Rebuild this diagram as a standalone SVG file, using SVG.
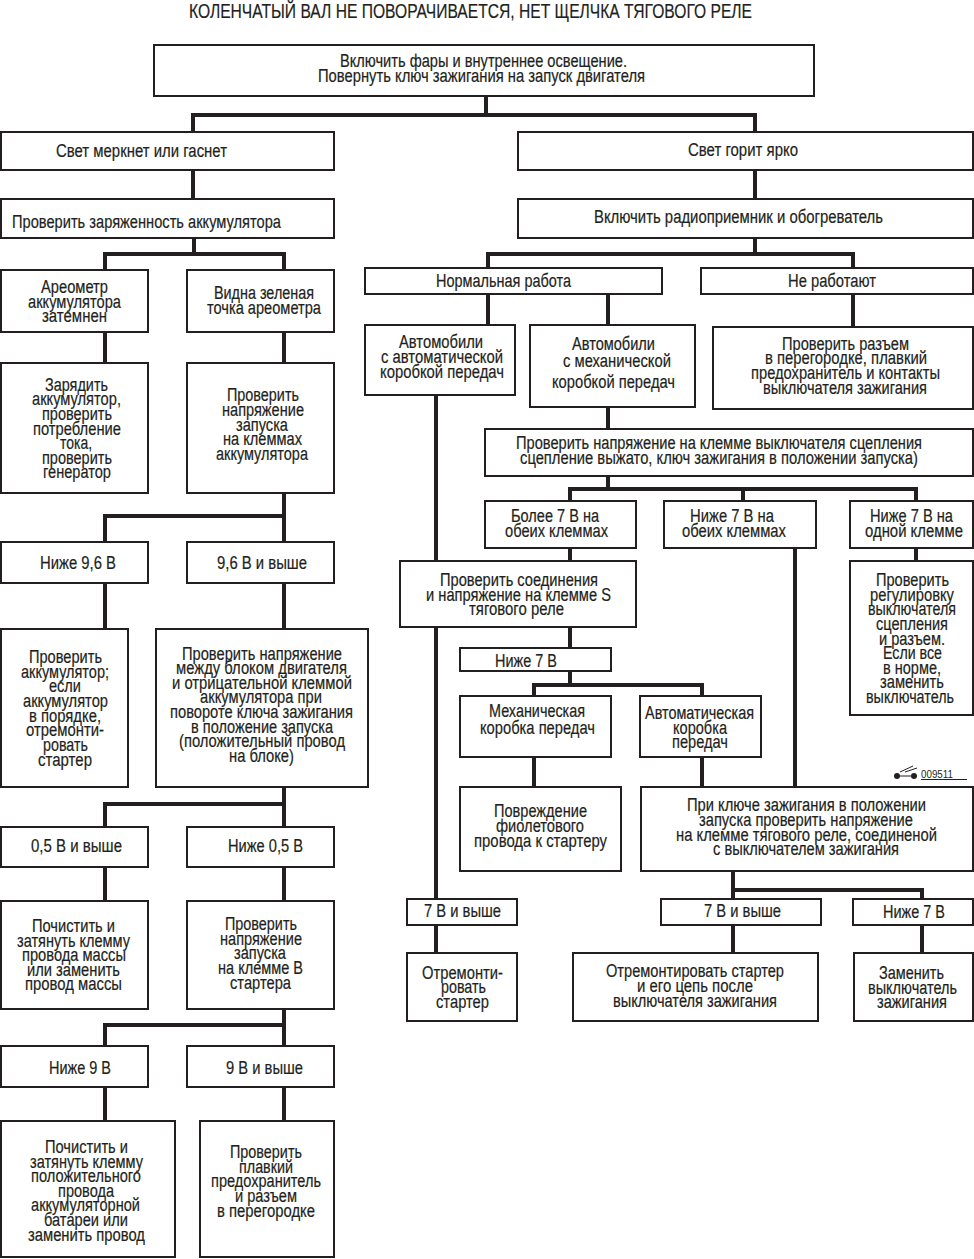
<svg xmlns="http://www.w3.org/2000/svg" width="974" height="1259" viewBox="0 0 974 1259">
<style>
rect{fill:#fff;stroke:#231f20;stroke-width:2}
text{font-family:"Liberation Sans",Arial,sans-serif;font-size:17.6px;fill:#231f20;stroke:#231f20;stroke-width:.2}
text.t{font-size:19.5px}
text.s{font-size:11px;stroke:none}
#connectors path{fill:none;stroke:#231f20;stroke-width:4}
#mark path{fill:none;stroke:#231f20;stroke-width:1}
#mark circle{fill:#231f20}
</style>
<rect x="0" y="0" width="974" height="1259" style="fill:#fff;stroke:none"/>
<text class="t" x="189" y="18" textLength="563" lengthAdjust="spacingAndGlyphs">КОЛЕНЧАТЫЙ ВАЛ НЕ ПОВОРАЧИВАЕТСЯ, НЕТ ЩЕЛЧКА ТЯГОВОГО РЕЛЕ</text>
<g id="connectors">
<path d="M486 97V115M193 132V115H755V132"/>
<path d="M193 170V199M194 238V254M105 270V254H284V270"/>
<path d="M755 170V199M755 238V254M488 268V254H853V268"/>
<path d="M105 332V363M284 332V363"/>
<path d="M284 493V542M105 542V516H284"/>
<path d="M105 583V629M284 583V629"/>
<path d="M284 787V827M105 827V804H284"/>
<path d="M105 867V901M284 867V901"/>
<path d="M284 1009V1046M105 1046V1025H284"/>
<path d="M105 1087V1121M284 1087V1121"/>
<path d="M488 294V325M608 294V325M853 294V327"/>
<path d="M436 395V561M436 627V899M436 925V953"/>
<path d="M608 407V429M608 476V489M570 501V489H916V501M743 489V501"/>
<path d="M570 548V561M916 548V561M795 548V787"/>
<path d="M570 627V648M570 671V685M534 696V685H702V696"/>
<path d="M534 757V787M702 757V787"/>
<path d="M733 871V899M733 890H922V899M733 925V953M922 925V953"/>
</g>
<g id="n1"><rect x="154" y="45" width="660" height="51"/><text x="340" y="67" textLength="287" lengthAdjust="spacingAndGlyphs">Включить фары и внутреннее освещение.</text><text x="318" y="82" textLength="327" lengthAdjust="spacingAndGlyphs">Повернуть ключ зажигания на запуск двигателя</text></g>
<g id="n2"><rect x="1" y="132" width="333" height="38"/><text x="56" y="157" textLength="171" lengthAdjust="spacingAndGlyphs">Свет меркнет или гаснет</text></g>
<g id="n3"><rect x="518" y="132" width="455" height="38"/><text x="688" y="156" textLength="110" lengthAdjust="spacingAndGlyphs">Свет горит ярко</text></g>
<g id="n4"><rect x="1" y="199" width="333" height="39"/><text x="12" y="228" textLength="269" lengthAdjust="spacingAndGlyphs">Проверить заряженность аккумулятора</text></g>
<g id="n5"><rect x="518" y="199" width="455" height="39"/><text x="594" y="223" textLength="289" lengthAdjust="spacingAndGlyphs">Включить радиоприемник и обогреватель</text></g>
<g id="n6"><rect x="1" y="270" width="147" height="62"/><text x="41" y="293" textLength="67" lengthAdjust="spacingAndGlyphs">Ареометр</text><text x="28" y="308" textLength="93" lengthAdjust="spacingAndGlyphs">аккумулятора</text><text x="42" y="322" textLength="65" lengthAdjust="spacingAndGlyphs">затемнен</text></g>
<g id="n7"><rect x="187" y="270" width="147" height="62"/><text x="214" y="299" textLength="100" lengthAdjust="spacingAndGlyphs">Видна зеленая</text><text x="207" y="314" textLength="114" lengthAdjust="spacingAndGlyphs">точка ареометра</text></g>
<g id="n8"><rect x="365" y="268" width="297" height="26"/><text x="436" y="287" textLength="135" lengthAdjust="spacingAndGlyphs">Нормальная работа</text></g>
<g id="n9"><rect x="701" y="268" width="272" height="26"/><text x="788" y="287" textLength="88" lengthAdjust="spacingAndGlyphs">Не работают</text></g>
<g id="n10"><rect x="365" y="325" width="150" height="70"/><text x="399" y="348" textLength="84" lengthAdjust="spacingAndGlyphs">Автомобили</text><text x="381" y="363" textLength="122" lengthAdjust="spacingAndGlyphs">с автоматической</text><text x="380" y="378" textLength="124" lengthAdjust="spacingAndGlyphs">коробкой передач</text></g>
<g id="n11"><rect x="530" y="325" width="165" height="82"/><text x="572" y="350" textLength="83" lengthAdjust="spacingAndGlyphs">Автомобили</text><text x="563" y="367" textLength="108" lengthAdjust="spacingAndGlyphs">с механической</text><text x="552" y="388" textLength="123" lengthAdjust="spacingAndGlyphs">коробкой передач</text></g>
<g id="n12"><rect x="713" y="327" width="260" height="82"/><text x="782" y="350" textLength="127" lengthAdjust="spacingAndGlyphs">Проверить разъем</text><text x="765" y="364" textLength="162" lengthAdjust="spacingAndGlyphs">в перегородке, плавкий</text><text x="751" y="379" textLength="189" lengthAdjust="spacingAndGlyphs">предохранитель и контакты</text><text x="763" y="394" textLength="164" lengthAdjust="spacingAndGlyphs">выключателя зажигания</text></g>
<g id="n13"><rect x="1" y="363" width="147" height="130"/><text x="45" y="391" textLength="63" lengthAdjust="spacingAndGlyphs">Зарядить</text><text x="32" y="405" textLength="89" lengthAdjust="spacingAndGlyphs">аккумулятор,</text><text x="42" y="420" textLength="70" lengthAdjust="spacingAndGlyphs">проверить</text><text x="33" y="435" textLength="88" lengthAdjust="spacingAndGlyphs">потребление</text><text x="60" y="449" textLength="32" lengthAdjust="spacingAndGlyphs">тока,</text><text x="42" y="464" textLength="70" lengthAdjust="spacingAndGlyphs">проверить</text><text x="43" y="478" textLength="68" lengthAdjust="spacingAndGlyphs">генератор</text></g>
<g id="n14"><rect x="187" y="363" width="147" height="130"/><text x="227" y="401" textLength="72" lengthAdjust="spacingAndGlyphs">Проверить</text><text x="222" y="416" textLength="82" lengthAdjust="spacingAndGlyphs">напряжение</text><text x="236" y="431" textLength="52" lengthAdjust="spacingAndGlyphs">запуска</text><text x="223" y="445" textLength="79" lengthAdjust="spacingAndGlyphs">на клеммах</text><text x="216" y="460" textLength="92" lengthAdjust="spacingAndGlyphs">аккумулятора</text></g>
<g id="n15"><rect x="485" y="429" width="488" height="47"/><text x="516" y="449" textLength="406" lengthAdjust="spacingAndGlyphs">Проверить напряжение на клемме выключателя сцепления</text><text x="520" y="464" textLength="398" lengthAdjust="spacingAndGlyphs">сцепление выжато, ключ зажигания в положении запуска)</text></g>
<g id="n16"><rect x="485" y="501" width="151" height="47"/><text x="511" y="522" textLength="88" lengthAdjust="spacingAndGlyphs">Более 7 В на</text><text x="505" y="537" textLength="103" lengthAdjust="spacingAndGlyphs">обеих клеммах</text></g>
<g id="n17"><rect x="664" y="501" width="152" height="47"/><text x="690" y="522" textLength="84" lengthAdjust="spacingAndGlyphs">Ниже 7 В на</text><text x="682" y="537" textLength="104" lengthAdjust="spacingAndGlyphs">обеих клеммах</text></g>
<g id="n18"><rect x="850" y="501" width="123" height="47"/><text x="870" y="522" textLength="83" lengthAdjust="spacingAndGlyphs">Ниже 7 В на</text><text x="865" y="537" textLength="98" lengthAdjust="spacingAndGlyphs">одной клемме</text></g>
<g id="n19"><rect x="1" y="542" width="147" height="41"/><text x="40" y="569" textLength="76" lengthAdjust="spacingAndGlyphs">Ниже 9,6 В</text></g>
<g id="n20"><rect x="187" y="542" width="147" height="41"/><text x="217" y="569" textLength="90" lengthAdjust="spacingAndGlyphs">9,6 В и выше</text></g>
<g id="n21"><rect x="400" y="561" width="236" height="66"/><text x="440" y="586" textLength="158" lengthAdjust="spacingAndGlyphs">Проверить соединения</text><text x="426" y="601" textLength="185" lengthAdjust="spacingAndGlyphs">и напряжение на клемме S</text><text x="469" y="615" textLength="95" lengthAdjust="spacingAndGlyphs">тягового реле</text></g>
<g id="n22"><rect x="850" y="561" width="123" height="154"/><text x="876" y="586" textLength="73" lengthAdjust="spacingAndGlyphs">Проверить</text><text x="870" y="601" textLength="84" lengthAdjust="spacingAndGlyphs">регулировку</text><text x="868" y="615" textLength="88" lengthAdjust="spacingAndGlyphs">выключателя</text><text x="876" y="630" textLength="72" lengthAdjust="spacingAndGlyphs">сцепления</text><text x="879" y="645" textLength="66" lengthAdjust="spacingAndGlyphs">и разъем.</text><text x="883" y="659" textLength="59" lengthAdjust="spacingAndGlyphs">Если все</text><text x="883" y="674" textLength="58" lengthAdjust="spacingAndGlyphs">в норме,</text><text x="880" y="688" textLength="64" lengthAdjust="spacingAndGlyphs">заменить</text><text x="866" y="703" textLength="88" lengthAdjust="spacingAndGlyphs">выключатель</text></g>
<g id="n23"><rect x="1" y="629" width="127" height="158"/><text x="29" y="663" textLength="73" lengthAdjust="spacingAndGlyphs">Проверить</text><text x="21" y="678" textLength="88" lengthAdjust="spacingAndGlyphs">аккумулятор;</text><text x="49" y="692" textLength="32" lengthAdjust="spacingAndGlyphs">если</text><text x="23" y="707" textLength="85" lengthAdjust="spacingAndGlyphs">аккумулятор</text><text x="29" y="722" textLength="72" lengthAdjust="spacingAndGlyphs">в порядке,</text><text x="26" y="736" textLength="78" lengthAdjust="spacingAndGlyphs">отремонти-</text><text x="43" y="751" textLength="45" lengthAdjust="spacingAndGlyphs">ровать</text><text x="38" y="766" textLength="54" lengthAdjust="spacingAndGlyphs">стартер</text></g>
<g id="n24"><rect x="156" y="629" width="212" height="158"/><text x="182" y="660" textLength="160" lengthAdjust="spacingAndGlyphs">Проверить напряжение</text><text x="176" y="674" textLength="171" lengthAdjust="spacingAndGlyphs">между блоком двигателя</text><text x="172" y="689" textLength="180" lengthAdjust="spacingAndGlyphs">и отрицательной клеммой</text><text x="200" y="703" textLength="122" lengthAdjust="spacingAndGlyphs">аккумулятора при</text><text x="170" y="718" textLength="183" lengthAdjust="spacingAndGlyphs">повороте ключа зажигания</text><text x="191" y="733" textLength="142" lengthAdjust="spacingAndGlyphs">в положение запуска</text><text x="179" y="747" textLength="166" lengthAdjust="spacingAndGlyphs">(положительный провод</text><text x="229" y="762" textLength="65" lengthAdjust="spacingAndGlyphs">на блоке)</text></g>
<g id="n25"><rect x="460" y="648" width="151" height="23"/><text x="495" y="667" textLength="62" lengthAdjust="spacingAndGlyphs">Ниже 7 В</text></g>
<g id="n26"><rect x="460" y="696" width="151" height="61"/><text x="489" y="717" textLength="96" lengthAdjust="spacingAndGlyphs">Механическая</text><text x="480" y="734" textLength="115" lengthAdjust="spacingAndGlyphs">коробка передач</text></g>
<g id="n27"><rect x="640" y="696" width="121" height="61"/><text x="645" y="719" textLength="109" lengthAdjust="spacingAndGlyphs">Автоматическая</text><text x="673" y="734" textLength="54" lengthAdjust="spacingAndGlyphs">коробка</text><text x="672" y="748" textLength="56" lengthAdjust="spacingAndGlyphs">передач</text></g>
<g id="n28"><rect x="460" y="787" width="161" height="84"/><text x="494" y="817" textLength="93" lengthAdjust="spacingAndGlyphs">Повреждение</text><text x="496" y="832" textLength="88" lengthAdjust="spacingAndGlyphs">фиолетового</text><text x="474" y="847" textLength="133" lengthAdjust="spacingAndGlyphs">провода к стартеру</text></g>
<g id="n29"><rect x="641" y="787" width="332" height="84"/><text x="687" y="811" textLength="239" lengthAdjust="spacingAndGlyphs">При ключе зажигания в положении</text><text x="699" y="826" textLength="214" lengthAdjust="spacingAndGlyphs">запуска проверить напряжение</text><text x="676" y="841" textLength="261" lengthAdjust="spacingAndGlyphs">на клемме тягового реле, соединеной</text><text x="713" y="855" textLength="186" lengthAdjust="spacingAndGlyphs">с выключателем зажигания</text></g>
<g id="n30"><rect x="1" y="827" width="147" height="40"/><text x="31" y="852" textLength="91" lengthAdjust="spacingAndGlyphs">0,5 В и выше</text></g>
<g id="n31"><rect x="187" y="827" width="147" height="40"/><text x="228" y="852" textLength="75" lengthAdjust="spacingAndGlyphs">Ниже 0,5 В</text></g>
<g id="n32"><rect x="407" y="899" width="110" height="26"/><text x="424" y="917" textLength="77" lengthAdjust="spacingAndGlyphs">7 В и выше</text></g>
<g id="n33"><rect x="661" y="899" width="160" height="26"/><text x="704" y="917" textLength="77" lengthAdjust="spacingAndGlyphs">7 В и выше</text></g>
<g id="n34"><rect x="853" y="899" width="120" height="26"/><text x="883" y="918" textLength="62" lengthAdjust="spacingAndGlyphs">Ниже 7 В</text></g>
<g id="n35"><rect x="1" y="901" width="147" height="108"/><text x="32" y="932" textLength="83" lengthAdjust="spacingAndGlyphs">Почистить и</text><text x="17" y="947" textLength="113" lengthAdjust="spacingAndGlyphs">затянуть клемму</text><text x="22" y="961" textLength="104" lengthAdjust="spacingAndGlyphs">провода массы</text><text x="27" y="976" textLength="93" lengthAdjust="spacingAndGlyphs">или заменить</text><text x="25" y="990" textLength="97" lengthAdjust="spacingAndGlyphs">провод массы</text></g>
<g id="n36"><rect x="187" y="901" width="147" height="108"/><text x="225" y="930" textLength="72" lengthAdjust="spacingAndGlyphs">Проверить</text><text x="220" y="945" textLength="82" lengthAdjust="spacingAndGlyphs">напряжение</text><text x="234" y="959" textLength="52" lengthAdjust="spacingAndGlyphs">запуска</text><text x="218" y="974" textLength="85" lengthAdjust="spacingAndGlyphs">на клемме В</text><text x="230" y="989" textLength="61" lengthAdjust="spacingAndGlyphs">стартера</text></g>
<g id="n37"><rect x="407" y="953" width="110" height="68"/><text x="422" y="979" textLength="81" lengthAdjust="spacingAndGlyphs">Отремонти-</text><text x="441" y="993" textLength="45" lengthAdjust="spacingAndGlyphs">ровать</text><text x="436" y="1008" textLength="53" lengthAdjust="spacingAndGlyphs">стартер</text></g>
<g id="n38"><rect x="573" y="953" width="245" height="68"/><text x="606" y="977" textLength="178" lengthAdjust="spacingAndGlyphs">Отремонтировать стартер</text><text x="637" y="992" textLength="116" lengthAdjust="spacingAndGlyphs">и его цепь после</text><text x="613" y="1007" textLength="164" lengthAdjust="spacingAndGlyphs">выключателя зажигания</text></g>
<g id="n39"><rect x="854" y="953" width="119" height="68"/><text x="879" y="979" textLength="65" lengthAdjust="spacingAndGlyphs">Заменить</text><text x="868" y="994" textLength="89" lengthAdjust="spacingAndGlyphs">выключатель</text><text x="877" y="1008" textLength="70" lengthAdjust="spacingAndGlyphs">зажигания</text></g>
<g id="n40"><rect x="1" y="1046" width="147" height="41"/><text x="49" y="1074" textLength="62" lengthAdjust="spacingAndGlyphs">Ниже 9 В</text></g>
<g id="n41"><rect x="187" y="1046" width="147" height="41"/><text x="226" y="1074" textLength="77" lengthAdjust="spacingAndGlyphs">9 В и выше</text></g>
<g id="n42"><rect x="1" y="1121" width="174" height="136"/><text x="45" y="1153" textLength="83" lengthAdjust="spacingAndGlyphs">Почистить и</text><text x="30" y="1168" textLength="113" lengthAdjust="spacingAndGlyphs">затянуть клемму</text><text x="31" y="1182" textLength="110" lengthAdjust="spacingAndGlyphs">положительного</text><text x="58" y="1197" textLength="56" lengthAdjust="spacingAndGlyphs">провода</text><text x="31" y="1211" textLength="109" lengthAdjust="spacingAndGlyphs">аккумуляторной</text><text x="44" y="1226" textLength="84" lengthAdjust="spacingAndGlyphs">батареи или</text><text x="28" y="1241" textLength="117" lengthAdjust="spacingAndGlyphs">заменить провод</text></g>
<g id="n43"><rect x="200" y="1121" width="134" height="136"/><text x="230" y="1158" textLength="72" lengthAdjust="spacingAndGlyphs">Проверить</text><text x="239" y="1173" textLength="54" lengthAdjust="spacingAndGlyphs">плавкий</text><text x="211" y="1187" textLength="110" lengthAdjust="spacingAndGlyphs">предохранитель</text><text x="235" y="1202" textLength="62" lengthAdjust="spacingAndGlyphs">и разъем</text><text x="217" y="1217" textLength="98" lengthAdjust="spacingAndGlyphs">в перегородке</text></g>
<g id="mark"><circle cx="897" cy="776" r="3"/><circle cx="914" cy="776" r="3"/><path d="M900 772L913 766M905 772L917 768M900 776H911M921 779.5H967"/><text class="s" x="921" y="778" textLength="32" lengthAdjust="spacingAndGlyphs">009511</text></g>
</svg>
